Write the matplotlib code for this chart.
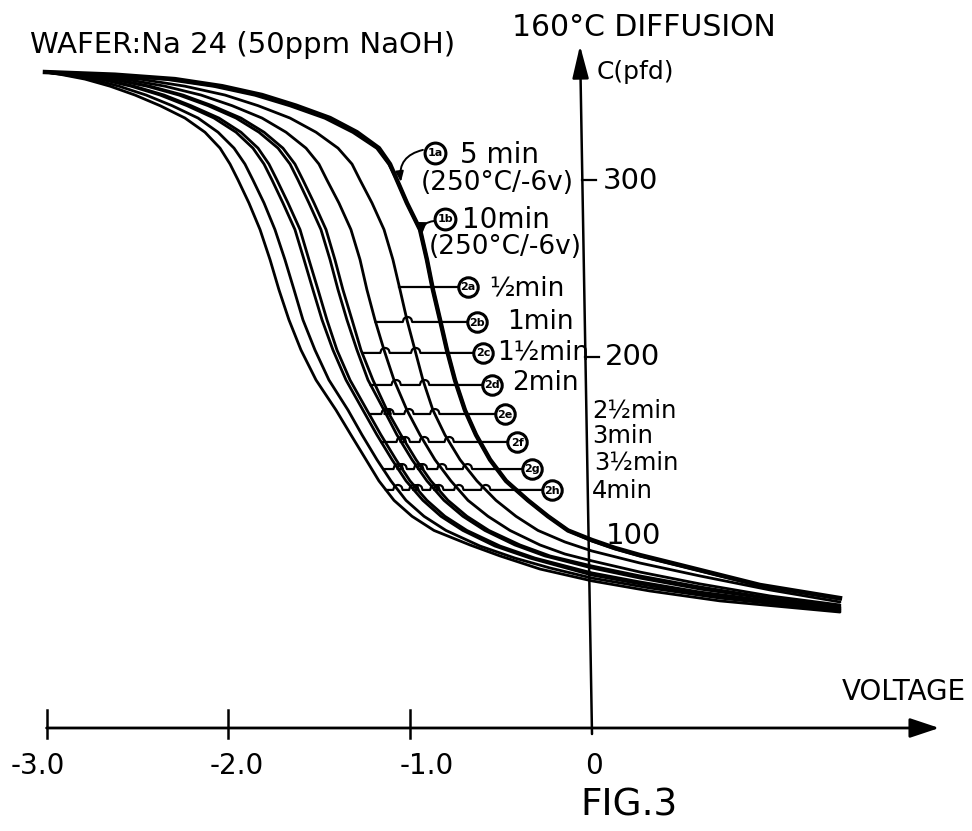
import numpy as np
import matplotlib
matplotlib.use("Agg")
import matplotlib.pyplot as plt
from matplotlib import transforms

# C-V curves.
# upper part: voltage of each curve at these capacitance levels (pfd)
cap_levels = [361, 359.5, 357, 353, 348, 342, 335, 327, 318, 309, 300, 287, 272,
              255, 238, 221, 204, 187, 170, 156, 142, 130, 119, 110, 102]

v_1a = [-3.009, -2.624, -2.294, -2.035, -1.815, -1.628, -1.441, -1.293, -1.172, -1.111, -1.073, -1.018, -0.946,
        -0.908, -0.875, -0.836, -0.798, -0.754, -0.699, -0.638, -0.561, -0.473, -0.352, -0.242, -0.132]
v_1b = [-3.009, -2.662, -2.343, -2.079, -1.854, -1.661, -1.469, -1.315, -1.183, -1.117, -1.073, -1.018, -0.946,
        -0.908, -0.875, -0.836, -0.798, -0.754, -0.699, -0.638, -0.561, -0.473, -0.352, -0.242, -0.132]
v_2a = [-3.009, -2.761, -2.486, -2.239, -2.019, -1.837, -1.661, -1.518, -1.397, -1.320, -1.276, -1.210, -1.144,
        -1.095, -1.056, -1.018, -0.974, -0.930, -0.875, -0.809, -0.726, -0.633, -0.528, -0.418, -0.297]
v_2b = [-3.009, -2.805, -2.569, -2.349, -2.151, -1.980, -1.815, -1.683, -1.573, -1.502, -1.458, -1.392, -1.326,
        -1.276, -1.238, -1.194, -1.144, -1.089, -1.018, -0.946, -0.864, -0.776, -0.682, -0.572, -0.451]
v_2c = [-3.009, -2.833, -2.629, -2.431, -2.250, -2.090, -1.931, -1.804, -1.700, -1.634, -1.590, -1.529, -1.463,
        -1.414, -1.370, -1.320, -1.271, -1.205, -1.128, -1.051, -0.968, -0.886, -0.792, -0.688, -0.567]
v_2d = [-3.009, -2.838, -2.640, -2.448, -2.272, -2.112, -1.958, -1.832, -1.727, -1.661, -1.617, -1.557, -1.491,
        -1.441, -1.397, -1.348, -1.293, -1.232, -1.144, -1.073, -0.990, -0.908, -0.814, -0.710, -0.589]
v_2e = [-3.009, -2.866, -2.690, -2.519, -2.354, -2.206, -2.052, -1.931, -1.837, -1.777, -1.733, -1.672, -1.606,
        -1.557, -1.507, -1.458, -1.403, -1.331, -1.238, -1.161, -1.078, -1.001, -0.908, -0.809, -0.688]
v_2f = [-3.009, -2.871, -2.706, -2.536, -2.376, -2.228, -2.079, -1.958, -1.865, -1.804, -1.760, -1.700, -1.634,
        -1.584, -1.535, -1.485, -1.425, -1.353, -1.260, -1.183, -1.100, -1.023, -0.930, -0.831, -0.710]
v_2g = [-3.009, -2.899, -2.750, -2.602, -2.453, -2.310, -2.167, -2.057, -1.969, -1.909, -1.865, -1.804, -1.744,
        -1.689, -1.639, -1.590, -1.524, -1.447, -1.342, -1.265, -1.183, -1.106, -1.023, -0.924, -0.803]
v_2h = [-3.009, -2.915, -2.789, -2.651, -2.514, -2.376, -2.239, -2.129, -2.046, -1.991, -1.947, -1.887, -1.826,
        -1.771, -1.722, -1.667, -1.601, -1.518, -1.408, -1.326, -1.243, -1.172, -1.089, -0.990, -0.869]

# lower tails: (voltage, capacitance) pairs
tail_1a_v = [0.0, 0.127, 0.264, 0.484, 0.924, 1.364]
tail_1a_c = [96.6, 92.1, 88.1, 82.5, 71.2, 63.8]
tail_1b_v = [0.0, 0.127, 0.264, 0.484, 0.924, 1.364]
tail_1b_c = [96.1, 91.6, 87.6, 82.0, 70.7, 63.3]
tail_2a_v = [-0.149, 0.0, 0.264, 0.594, 0.979, 1.364]
tail_2a_c = [95.5, 90.4, 83.6, 76.3, 68.4, 61.6]
tail_2b_v = [-0.286, -0.149, 0.0, 0.264, 0.594, 0.979, 1.364]
tail_2b_c = [93.8, 88.7, 84.8, 78.5, 71.8, 65.0, 59.9]
tail_2c_v = [-0.396, -0.231, 0.0, 0.264, 0.594, 0.979, 1.364]
tail_2c_c = [93.8, 87.6, 81.9, 76.3, 70.1, 63.8, 58.8]
tail_2d_v = [-0.424, -0.259, 0.0, 0.264, 0.594, 0.979, 1.364]
tail_2d_c = [93.8, 87.6, 80.8, 75.1, 68.9, 63.3, 58.2]
tail_2e_v = [-0.506, -0.314, 0.0, 0.264, 0.594, 0.979, 1.364]
tail_2e_c = [93.2, 86.4, 78.0, 72.9, 67.2, 62.2, 57.6]
tail_2f_v = [-0.534, -0.341, 0.0, 0.264, 0.594, 0.979, 1.364]
tail_2f_c = [93.2, 86.4, 76.8, 71.8, 66.1, 61.6, 57.1]
tail_2g_v = [-0.616, -0.424, -0.231, 0.0, 0.319, 0.704, 1.364]
tail_2g_c = [93.2, 86.4, 80.8, 75.1, 69.5, 63.8, 56.5]
tail_2h_v = [-0.671, -0.506, -0.286, 0.0, 0.319, 0.704, 1.364]
tail_2h_c = [93.8, 87.6, 80.2, 73.5, 67.8, 62.2, 55.9]

thin_tags = ["2a", "2b", "2c", "2d", "2e", "2f", "2g", "2h"]
thin_times = ["½min", "1min", "1½min", "2min", "2½min", "3min", "3½min", "4min"]
thin_upper = [v_2a, v_2b, v_2c, v_2d, v_2e, v_2f, v_2g, v_2h]
thin_tail_v = [tail_2a_v, tail_2b_v, tail_2c_v, tail_2d_v, tail_2e_v, tail_2f_v, tail_2g_v, tail_2h_v]
thin_tail_c = [tail_2a_c, tail_2b_c, tail_2c_c, tail_2d_c, tail_2e_c, tail_2f_c, tail_2g_c, tail_2h_c]

x_ticks = [-3.0, -2.0, -1.0, 0.0]
x_tick_labels = ["-3.0", "-2.0", "-1.0", "0"]
y_ticks = [300, 200]
y_tick_labels = ["300", "200", "100"]

fig = plt.figure(figsize=(9.72, 8.31), dpi=100)
ax = fig.add_axes([0, 0, 1, 1])
ax.set_xlim(-592 / 181.8, (972 - 592) / 181.8)
ax.set_ylim(300 - 651 / 1.77, 300 + 180 / 1.77)
ax.axis("off")
# pixel-based transform for the lettering
tpx = transforms.Affine2D().scale(1 / 972, -1 / 831).translate(0, 1) + fig.transFigure

thin_curves = []
for vu, tv, tc in zip(thin_upper, thin_tail_v, thin_tail_c):
    thin_curves.append((np.array(vu + tv), np.array(cap_levels + tc)))

for v, c in thin_curves:
    ax.plot(v, c, color="black", lw=2.0, solid_joinstyle="round", solid_capstyle="round")
ax.plot(v_1b + tail_1b_v, cap_levels + tail_1b_c, color="black", lw=2.3, solid_joinstyle="round")
ax.plot(v_1a + tail_1a_v, cap_levels + tail_1a_c, color="black", lw=3.2, solid_joinstyle="round")

# axes
c_axis = -9.6
ax.annotate("", xy=(1.91, c_axis), xytext=(-3.0, c_axis),
            arrowprops=dict(arrowstyle="-|>,head_width=0.3,head_length=0.9",
                            lw=2, color="black", mutation_scale=20, shrinkA=0, shrinkB=0))
ax.annotate("", xy=(-0.066, 376), xytext=(0.0, -13),
            arrowprops=dict(arrowstyle="-|>,head_width=0.25,head_length=1.0",
                            lw=1.8, color="black", mutation_scale=20, shrinkA=0, shrinkB=0))


def y_axis_x(c):
    return -0.066 * (c + 13) / 389


for xt in x_ticks[:-1]:
    ax.plot([xt, xt], [0.5, -15.5], color="black", lw=1.8)
for yt in y_ticks:
    x0 = y_axis_x(yt)
    ax.plot([x0, x0 + 0.075], [yt, yt], color="black", lw=1.6)

# tick labels and titles
tick_px = [38, 237, 427, 594]
for px, s in zip(tick_px, x_tick_labels):
    fig.text(px, 766, s, transform=tpx, fontsize=20, ha="center", va="center")
for (px, py), s in zip([(630, 181), (632, 357), (633, 536)], y_tick_labels):
    fig.text(px, py, s, transform=tpx, fontsize=21, ha="center", va="center")

fig.text(30, 45, "WAFER:Na 24 (50ppm NaOH)", transform=tpx, fontsize=21, ha="left", va="center")
fig.text(512, 28, "160°C DIFFUSION", transform=tpx, fontsize=21.5, ha="left", va="center")
fig.text(597, 72, "C(pfd)", transform=tpx, fontsize=18, ha="left", va="center")
fig.text(966, 692, "VOLTAGE", transform=tpx, fontsize=20, ha="right", va="center")
fig.text(629, 806, "FIG.3", transform=tpx, fontsize=27, ha="center", va="center")


def circle_tag(cx, cy, tag, r_ms=14):
    ax.plot([cx], [cy], "o", ms=r_ms, mfc="white", mec="black", mew=2.2,
            transform=tpx, clip_on=False, zorder=5)
    fig.text(cx, cy + 0.5, tag, transform=tpx, fontsize=8, fontweight="bold",
             ha="center", va="center", zorder=6)


# 1a / 1b annotations
circle_tag(435, 153, "1a", 15)
fig.text(460, 155, "5 min", transform=tpx, fontsize=20, ha="left", va="center")
fig.text(421, 183, "(250°C/-6v)", transform=tpx, fontsize=19, ha="left", va="center")
circle_tag(445, 219, "1b", 15)
fig.text(462, 220, "10min", transform=tpx, fontsize=20, ha="left", va="center")
fig.text(429, 247, "(250°C/-6v)", transform=tpx, fontsize=19, ha="left", va="center")
ax.annotate("", xy=(-1.051, 298.9), xytext=(-0.930, 317.0),
            arrowprops=dict(arrowstyle="-|>,head_width=0.2,head_length=0.5", lw=1.4,
                            color="black", connectionstyle="arc3,rad=0.45",
                            mutation_scale=12, shrinkA=0, shrinkB=0))
ax.annotate("", xy=(-0.935, 269.5), xytext=(-0.869, 276.8),
            arrowprops=dict(arrowstyle="-|>,head_width=0.2,head_length=0.5", lw=1.4,
                            color="black", connectionstyle="arc3,rad=0.45",
                            mutation_scale=12, shrinkA=0, shrinkB=0))

# 2a..2h leader lines with small humps where they hop over other curves
leader_c = [239.6, 219.8, 202.3, 184.2, 167.8, 152.0, 136.7, 124.9]
tag_px = [(468, 287), (477, 322), (483, 353), (492, 385), (505, 414), (517, 442), (532, 469), (552, 490)]
time_px = [(489, 288), (507, 322), (497, 352), (512, 383), (592, 410), (592, 436), (594, 462), (592, 491)]
time_fs = [19, 19, 19, 19, 17.5, 17.5, 17.5, 17.5]


def v_at(v, c, c0):
    return float(np.interp(c0, c[::-1], v[::-1]))


w, h = 0.026, 2.8
for i, (v, c) in enumerate(thin_curves):
    c0 = leader_c[i]
    v_start = v_at(v, c, c0)
    v_end = (tag_px[i][0] - 9 - 592) / 181.8
    hops = sorted(v_at(vv, cc, c0) for j, (vv, cc) in enumerate(thin_curves) if j < i)
    xs, ys = [v_start], [c0]
    for xc in hops:
        if v_start + w < xc < v_end - w:
            t = np.linspace(-1, 1, 11)
            xs += list(xc + w * t)
            ys += list(c0 + h * np.sqrt(1 - t ** 2))
    xs.append(v_end)
    ys.append(c0)
    ax.plot(xs, ys, color="black", lw=1.6)
    circle_tag(tag_px[i][0], tag_px[i][1], thin_tags[i])
    fig.text(time_px[i][0], time_px[i][1], thin_times[i], transform=tpx,
             fontsize=time_fs[i], ha="left", va="center")

fig.savefig("out.png", dpi=100)
